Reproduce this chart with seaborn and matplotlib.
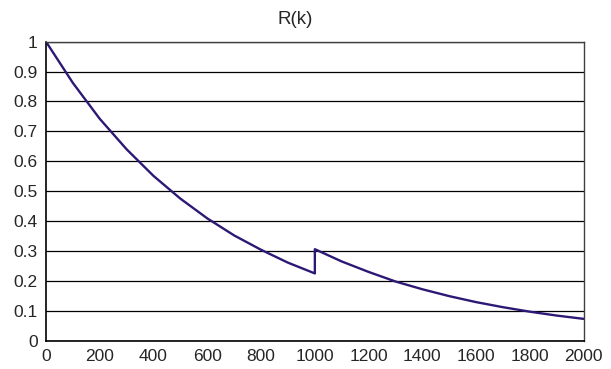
import matplotlib
matplotlib.use("Agg")
import matplotlib.pyplot as plt
import seaborn as sns
import pandas as pd

# values (k = 1000 appears twice: before and after the jump)
k_before = [0, 100, 200, 300, 400, 500, 600, 700, 800, 900, 1000]
r_before = [1.0, 0.862, 0.742, 0.640, 0.551, 0.475, 0.409, 0.352, 0.304, 0.261, 0.225]
k_after = [1000, 1100, 1200, 1300, 1400, 1500, 1600, 1700, 1800, 1900, 2000]
r_after = [0.306, 0.265, 0.230, 0.198, 0.172, 0.149, 0.129, 0.112, 0.097, 0.084, 0.073]
x_ticks = [0, 200, 400, 600, 800, 1000, 1200, 1400, 1600, 1800, 2000]
y_ticks = [0, 0.1, 0.2, 0.3, 0.4, 0.5, 0.6, 0.7, 0.8, 0.9, 1]
y_labels = ["0", "0.1", "0.2", "0.3", "0.4", "0.5", "0.6", "0.7", "0.8", "0.9", "1"]

df = pd.DataFrame({
    "k": k_before + k_after,
    "R": r_before + r_after,
})

sns.set_style("white")
plt.rcParams["font.family"] = ["Liberation Sans", "DejaVu Sans"]

fig = plt.figure(figsize=(6.11, 3.69), dpi=100)
ax = fig.add_axes([0.0753, 0.0767, 0.88, 0.8103])

sns.lineplot(data=df, x="k", y="R", sort=False, estimator=None,
             color="#2E1875", linewidth=1.7, ax=ax)

ax.set_xlim(0, 2000)
ax.set_ylim(0, 1)
ax.set_xticks(x_ticks)
ax.set_xticklabels([str(v) for v in x_ticks])
ax.set_yticks(y_ticks)
ax.set_yticklabels(y_labels)
ax.set_xlabel("")
ax.set_ylabel("")

ax.grid(axis="y", color="black", linewidth=0.9)
ax.grid(axis="x", visible=False)
ax.set_axisbelow(True)
ax.tick_params(axis="both", direction="out", length=4, width=1,
               color="black", labelsize=12.5, pad=2)

for side in ["left", "bottom"]:
    ax.spines[side].set_color("black")
    ax.spines[side].set_linewidth(1.2)
for side in ["top", "right"]:
    ax.spines[side].set_color("#404040")
    ax.spines[side].set_linewidth(1.0)

fig.text(0.483, 0.946, "R(k)", ha="center", va="center", fontsize=13.5)

fig.savefig("out.png", dpi=100)
